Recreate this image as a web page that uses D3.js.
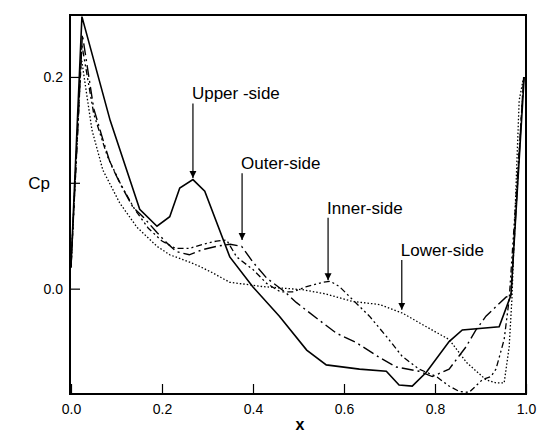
<!DOCTYPE html>
<html lang="en">
<head>
<meta charset="utf-8">
<title>Cp distribution</title>
<script src="https://cdn.jsdelivr.net/npm/d3@7/dist/d3.min.js"></script>
<style>
  body { margin: 0; background: #fff; }
  text { font-family: "Liberation Sans", Arial, Helvetica, sans-serif; fill: #000; }
</style>
</head>
<body>
<script>

// data
var upperX  = [0, 0.024, 0.086, 0.151, 0.189, 0.217, 0.239, 0.268, 0.294, 0.349, 0.399, 0.458, 0.518, 0.561, 0.634, 0.693, 0.721, 0.75, 0.781, 0.831, 0.86, 0.941, 0.967, 0.996];
var upperCp = [0.021, 0.257, 0.159, 0.075, 0.059, 0.068, 0.095, 0.103, 0.092, 0.030, 0.002, -0.026, -0.058, -0.072, -0.076, -0.078, -0.091, -0.092, -0.079, -0.050, -0.039, -0.036, -0.006, 0.200];

var outerX  = [0, 0.025, 0.05, 0.07, 0.086, 0.107, 0.136, 0.158, 0.189, 0.211, 0.232, 0.26, 0.29, 0.32, 0.35, 0.375, 0.40, 0.43, 0.47, 0.495, 0.54, 0.583, 0.627, 0.678, 0.715, 0.765, 0.794, 0.831, 0.868, 0.89, 0.912, 0.934, 0.956, 0.967, 0.995];
var outerCp = [0.02, 0.24, 0.17, 0.141, 0.119, 0.100, 0.077, 0.068, 0.053, 0.043, 0.035, 0.032, 0.037, 0.040, 0.042, 0.040, 0.025, 0.010, -0.003, -0.013, -0.028, -0.042, -0.051, -0.065, -0.074, -0.078, -0.083, -0.076, -0.055, -0.039, -0.026, -0.017, -0.008, -0.006, 0.2];

var innerX  = [0, 0.024, 0.05, 0.08, 0.11, 0.14, 0.17, 0.2, 0.23, 0.26, 0.29, 0.32, 0.342, 0.364, 0.40, 0.43, 0.46, 0.487, 0.518, 0.553, 0.57, 0.59, 0.618, 0.656, 0.693, 0.728, 0.765, 0.803, 0.831, 0.853, 0.875, 0.904, 0.923, 0.934, 0.952, 0.963, 0.985, 0.995];
var innerCp = [0.02, 0.23, 0.165, 0.125, 0.098, 0.075, 0.057, 0.045, 0.038, 0.038, 0.042, 0.045, 0.046, 0.030, 0.018, 0.005, -0.003, -0.003, 0.002, 0.006, 0.007, 0.002, -0.010, -0.026, -0.045, -0.064, -0.076, -0.083, -0.092, -0.097, -0.098, -0.086, -0.083, -0.076, -0.048, -0.010, 0.131, 0.2];

var lowerX  = [0, 0.022, 0.046, 0.07, 0.107, 0.145, 0.189, 0.217, 0.261, 0.283, 0.311, 0.349, 0.386, 0.421, 0.509, 0.56, 0.618, 0.678, 0.728, 0.781, 0.831, 0.87, 0.912, 0.934, 0.952, 0.963, 0.969, 0.985, 0.995];
var lowerCp = [0.02, 0.22, 0.15, 0.112, 0.081, 0.058, 0.040, 0.032, 0.025, 0.021, 0.015, 0.006, 0.004, 0.002, -0.001, -0.005, -0.012, -0.015, -0.023, -0.036, -0.048, -0.070, -0.086, -0.089, -0.089, -0.055, -0.010, 0.178, 0.2];

var xTicks = [0, 0.2, 0.4, 0.6, 0.8, 1.0];
var yTicks = [0, 0.1, 0.2];
var yTickLabels = ["0.0", "", "0.2"];   // 0.1 tick is unlabelled, "Cp" sits there

// annotations: label, arrow x, arrow top, arrow tip (data units)
var annLabels = ["Upper -side", "Outer-side", "Inner-side", "Lower-side"];
var annX   = [0.268, 0.376, 0.565, 0.727];
var annTop = [0.175, 0.109, 0.067, 0.027];
var annTip = [0.1046, 0.046, 0.008, -0.020];

var w = 540, h = 435;
var mLeft = 70, mRight = 526, mTop = 15, mBottom = 394;

var svg = d3.select("body").append("svg")
    .attr("width", w)
    .attr("height", h);

var xScale = d3.scaleLinear().domain([0, 1]).range([71, 526]);
var yScale = d3.scaleLinear().domain([-0.0995, 0.2585]).range([mBottom, mTop]);

svg.append("defs").append("marker")
    .attr("id", "head")
    .attr("viewBox", "0 0 10 10")
    .attr("refX", 10).attr("refY", 5)
    .attr("markerWidth", 7).attr("markerHeight", 9)
    .attr("markerUnits", "userSpaceOnUse")
    .attr("orient", "auto")
  .append("path")
    .attr("d", "M0,0L10,5L0,10Z")
    .attr("fill", "#000");

var series = [
  {x: upperX, y: upperCp, dash: null, width: 1.6},
  {x: outerX, y: outerCp, dash: "12,4,2,4", width: 1.4},
  {x: innerX, y: innerCp, dash: "6,3,2,3,2,3", width: 1.3},
  {x: lowerX, y: lowerCp, dash: "1.5,2", width: 1.3}
];

var line = d3.line()
    .x(function(d) { return xScale(d[0]); })
    .y(function(d) { return yScale(d[1]); });

svg.selectAll("path.curve")
   .data(series)
   .enter()
   .append("path")
   .attr("class", "curve")
   .attr("fill", "none")
   .attr("stroke", "#000")
   .attr("stroke-width", function(d) { return d.width; })
   .attr("stroke-dasharray", function(d) { return d.dash; })
   .attr("d", function(d) { return line(d3.zip(d.x, d.y)); });

// axes with inward ticks
var xAxis = d3.axisBottom(xScale)
    .tickValues(xTicks)
    .tickFormat(d3.format(".1f"))
    .tickSizeInner(-10)
    .tickSizeOuter(0)
    .tickPadding(10);

var yAxis = d3.axisLeft(yScale)
    .tickValues(yTicks)
    .tickFormat(function(d, i) { return yTickLabels[i]; })
    .tickSizeInner(-10)
    .tickSizeOuter(0)
    .tickPadding(7);

var gx = svg.append("g")
   .attr("transform", "translate(0," + mBottom + ")")
   .call(xAxis);
var gy = svg.append("g")
   .attr("transform", "translate(" + mLeft + ",0)")
   .call(yAxis);

[gx, gy].forEach(function(g) {
  g.select(".domain").remove();
  g.selectAll("line").attr("stroke", "#000").attr("stroke-width", 1.2);
  g.selectAll("text")
   .style("font-family", '"Liberation Sans", Arial, sans-serif')
   .style("font-size", "14px")
   .attr("fill", "#000");
});

// frame
svg.append("rect")
   .attr("x", mLeft).attr("y", mTop)
   .attr("width", mRight - mLeft).attr("height", mBottom - mTop)
   .attr("fill", "none")
   .attr("stroke", "#000")
   .attr("stroke-width", 2);

// annotations
annLabels.forEach(function(lab, i) {
  var ax = xScale(annX[i]);
  svg.append("line")
     .attr("x1", ax).attr("x2", ax)
     .attr("y1", yScale(annTop[i]))
     .attr("y2", yScale(annTip[i]))
     .attr("stroke", "#000")
     .attr("stroke-width", 1.2)
     .attr("marker-end", "url(#head)");
  svg.append("text")
     .attr("x", ax - 1)
     .attr("y", yScale(annTop[i]) - 4)
     .style("font-size", "17px")
     .text(lab);
});

svg.append("text")
   .attr("x", 39).attr("y", 189)
   .attr("text-anchor", "middle")
   .style("font-size", "17px")
   .text("Cp");

svg.append("text")
   .attr("x", 300).attr("y", 430)
   .attr("text-anchor", "middle")
   .style("font-size", "16px")
   .style("font-weight", "bold")
   .text("x");

</script>
</body>
</html>
